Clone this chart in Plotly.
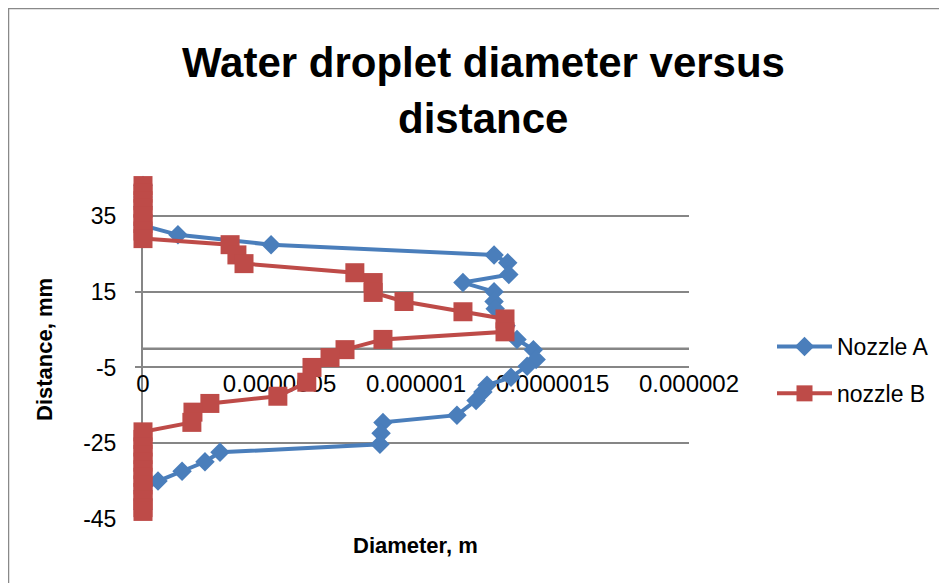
import plotly.graph_objects as go

# Nozzle A (diameter in micrometres -> converted to m, distance in mm)
a_diam_um = [0, 0, 0, 0, 0, 0.128, 0.469, 1.286, 1.336, 1.34, 1.172, 1.286, 1.286, 1.29,
             1.33, 1.37, 1.43, 1.44, 1.407, 1.348, 1.26, 1.245, 1.22, 1.15, 0.879, 0.872,
             0.868, 0.282, 0.227, 0.143, 0.055, 0, 0, 0]
a_dist = [43, 40, 37.5, 35, 32.5, 30, 27.4, 24.7, 22.6, 19.5, 17.4, 15, 12.4, 10.5,
          6, 2.4, -0.3, -2.9, -4.7, -7.6, -9.7, -11.5, -13.7, -17.6, -19.5, -22.4,
          -25.3, -27.4, -29.9, -32.4, -35, -37.5, -40, -42.5]

# Nozzle B
b_diam_um = [0, 0, 0, 0, 0, 0, 0, 0, 0.319, 0.344, 0.37, 0.776, 0.843, 0.843, 0.956,
             1.172, 1.326, 1.326, 0.879, 0.74, 0.685, 0.619, 0.60, 0.494, 0.245, 0.183,
             0.179, 0, 0, 0, 0, 0, 0, 0, 0, 0, 0, 0, 0]
b_dist = [43, 41, 39, 37, 35, 33, 31, 29, 27.4, 24.7, 22.4, 20, 17.4, 14.8, 12.4,
          9.7, 7.8, 4.4, 2.4, -0.3, -2.4, -5, -8.9, -12.6, -14.5, -16.8,
          -19.5, -22, -24, -26, -28, -30, -32, -34, -36, -38, -40, -42, -43]

x_tickvals = [0, 5e-7, 1e-6, 1.5e-6, 2e-6]
x_ticktext = ["0", "0.0000005", "0.000001", "0.0000015", "0.000002"]
y_tickvals = [-45, -25, -5, 15, 35]
y_ticktext = ["-45", "-25", "-5", "15", "35"]

FONT = "Liberation Sans"
BLUE = "#4A7EBB"
RED = "#BE4B48"
GRID = "#868686"

fig = go.Figure()
fig.add_trace(go.Scatter(
    x=[v * 1e-6 for v in a_diam_um], y=a_dist, mode="lines+markers", name="Nozzle A",
    line=dict(color=BLUE, width=4), marker=dict(symbol="diamond", size=15, color=BLUE),
    cliponaxis=False, legendgroup="a"))
fig.add_trace(go.Scatter(
    x=[v * 1e-6 for v in b_diam_um], y=b_dist, mode="lines+markers", name="nozzle B",
    line=dict(color=RED, width=4), marker=dict(symbol="square", size=19, color=RED),
    cliponaxis=False, legendgroup="b"))

# page offset of 8px (body margin) -> figure occupies page x 8..947, y 8..583
OFF = 8
W, H = 947 - OFF, 583 - OFF
PL, PR, PT, PB = 143, 689, 178, 519  # plot area in page pixels
L, T = PL - OFF, PT - OFF
R, B = 947 - PR, 583 - PB
pw, ph = PR - PL, PB - PT

def px_x(x):
    return (x - PL) / pw

def px_y(y):
    return (PB - y) / ph

fig.update_layout(
    width=W, height=H,
    margin=dict(l=L, r=R, t=T, b=B),
    paper_bgcolor="white", plot_bgcolor="white",
    font=dict(family=FONT, color="black", size=23),
    showlegend=True,
    legend=dict(x=px_x(772), y=px_y(370), xanchor="left", yanchor="middle",
                font=dict(family=FONT, size=23, color="black"), itemwidth=55,
                traceorder="grouped", tracegroupgap=14, bgcolor="rgba(0,0,0,0)"),
    xaxis=dict(range=[0, 2e-6], tickvals=x_tickvals, ticktext=x_ticktext,
               showgrid=False, zeroline=False, showline=True, linecolor=GRID,
               linewidth=2, anchor="free", position=0.5, ticks="",
               ticklabelstandoff=14, tickfont=dict(size=24), layer="below traces"),
    yaxis=dict(range=[-45, 45], tickvals=y_tickvals, ticktext=y_ticktext,
               showgrid=True, gridcolor=GRID, gridwidth=2, zeroline=False,
               showline=True, linecolor=GRID, linewidth=2, ticks="outside",
               ticklen=6, tickcolor=GRID, tickwidth=2, tickfont=dict(size=23),
               ticklabelstandoff=14, layer="below traces"),
    annotations=[
        dict(text="<b>Water droplet diameter versus</b>", x=px_x(483), y=px_y(62),
             xref="paper", yref="paper", showarrow=False, xanchor="center",
             yanchor="middle", font=dict(size=42, family=FONT)),
        dict(text="<b>distance</b>", x=px_x(483), y=px_y(119),
             xref="paper", yref="paper", showarrow=False, xanchor="center",
             yanchor="middle", font=dict(size=42, family=FONT)),
        dict(text="<b>Distance, mm</b>", x=px_x(44), y=px_y(350), textangle=-90,
             xref="paper", yref="paper", showarrow=False, xanchor="center",
             yanchor="middle", font=dict(size=22, family=FONT)),
        dict(text="<b>Diameter, m</b>", x=px_x(415), y=px_y(545),
             xref="paper", yref="paper", showarrow=False, xanchor="center",
             yanchor="middle", font=dict(size=22, family=FONT)),
    ],
    shapes=[
        dict(type="rect", xref="paper", yref="paper",
             x0=px_x(8.5), x1=px_x(1000), y0=px_y(640), y1=px_y(8.5),
             line=dict(color="#898989", width=1.5), layer="below"),
        dict(type="line", xref="paper", yref="paper", x0=0, x1=1, y0=0.5, y1=0.5,
             line=dict(color=GRID, width=2), layer="below"),
    ],
)

fig.write_html("out.html")
